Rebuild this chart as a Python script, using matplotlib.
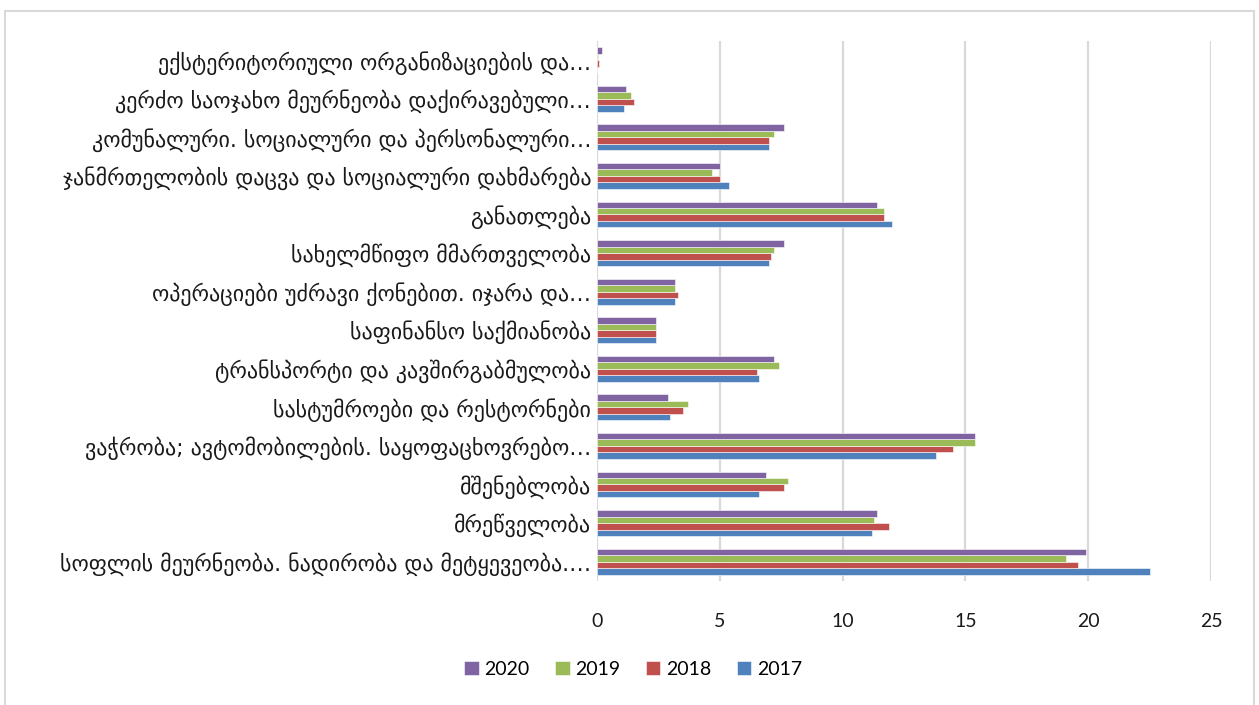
import numpy as np
import matplotlib
matplotlib.use("Agg")
from matplotlib import pyplot as plt
from matplotlib.patches import Rectangle

### Sectors (bottom to top, as on the axis)
sectors = [
    "სოფლის მეურნეობა. ნადირობა და მეტყევეობა.…",
    "მრეწველობა",
    "მშენებლობა",
    "ვაჭრობა; ავტომობილების. საყოფაცხოვრებო…",
    "სასტუმროები და რესტორნები",
    "ტრანსპორტი და კავშირგაბმულობა",
    "საფინანსო საქმიანობა",
    "ოპერაციები უძრავი ქონებით. იჯარა და…",
    "სახელმწიფო მმართველობა",
    "განათლება",
    "ჯანმრთელობის დაცვა და სოციალური დახმარება",
    "კომუნალური. სოციალური და პერსონალური…",
    "კერძო საოჯახო მეურნეობა დაქირავებული…",
    "ექსტერიტორიული ორგანიზაციების და…",
]

### Shares by year, same order as sectors
v2017 = [22.5, 11.2, 6.6, 13.8, 3.0, 6.6, 2.4, 3.2, 7.0, 12.0, 5.4, 7.0, 1.1, 0.0]
v2018 = [19.6, 11.9, 7.6, 14.5, 3.5, 6.5, 2.4, 3.3, 7.1, 11.7, 5.0, 7.0, 1.5, 0.1]
v2019 = [19.1, 11.3, 7.8, 15.4, 3.7, 7.4, 2.4, 3.2, 7.2, 11.7, 4.7, 7.2, 1.4, 0.05]
v2020 = [19.9, 11.4, 6.9, 15.4, 2.9, 7.2, 2.4, 3.2, 7.6, 11.4, 5.0, 7.6, 1.2, 0.2]

years = ["2017", "2018", "2019", "2020"]
series = [v2017, v2018, v2019, v2020]
colors = ["#4F81BD", "#C0504D", "#9BBB59", "#8064A2"]

fig = plt.figure(figsize=(12.59, 7.05), dpi=100)
ax = fig.add_axes([0.474, 0.176, 0.488, 0.766])

y = np.arange(len(sectors))
h = 0.168
for i, (vals, c, yr) in enumerate(zip(series, colors, years)):
    ax.barh(y + (i - 1.5) * h, vals, height=h, color=c, label=yr,
            edgecolor="white", linewidth=0.4, zorder=3)

ax.set_xlim(0, 25)
ax.set_ylim(-0.5, len(sectors) - 0.5)
ax.xaxis.set_major_locator(plt.MultipleLocator(5))
ax.grid(axis="x", color="#d9d9d9", linewidth=1.6, zorder=0)
for s in ax.spines.values():
    s.set_visible(False)

ax.set_yticks(y)
ax.set_yticklabels(sectors, fontsize=15.8, family=["DejaVu Sans"], color="#1a1a1a")
ax.tick_params(axis="both", length=0)
ax.tick_params(axis="y", pad=4)
ax.tick_params(axis="x", pad=23, labelsize=14, labelcolor="#1a1a1a")
for t in ax.get_xticklabels():
    t.set_family(["Lato", "DejaVu Sans"])

### Legend in reverse year order
hnd, lab = ax.get_legend_handles_labels()
fig.legend(hnd[::-1], lab[::-1], loc="center", bbox_to_anchor=(0.503, 0.051),
           ncol=4, frameon=False, handlelength=0.75, handleheight=0.75,
           handletextpad=0.3, columnspacing=1.3,
           prop={"family": ["Lato", "DejaVu Sans"], "size": 14})

### Chart border
fig.patches.append(Rectangle((5 / 1259, -0.05), 1249 / 1259, 1.05 - 11 / 705,
                             transform=fig.transFigure, fill=False,
                             edgecolor="#d9d9d9", linewidth=1.5))

fig.savefig("out.png", dpi=100)
